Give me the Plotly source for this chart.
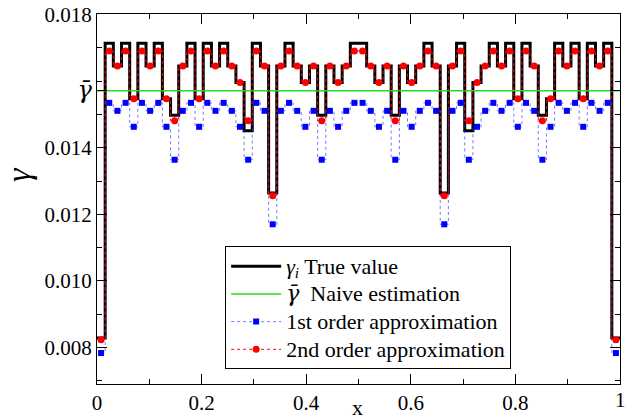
import numpy as np
import plotly.graph_objects as go

# 64 cells on [0, 1]
n_cells = 64
x_edges = np.linspace(0, 1, n_cells + 1)
x_centers = (x_edges[:-1] + x_edges[1:]) / 2

true_vals = [
    0.00828, 0.01714, 0.01646, 0.01714, 0.01547, 0.01714, 0.01646, 0.01714,
    0.01547, 0.01498, 0.01646, 0.01714, 0.01547, 0.01714, 0.01646, 0.01714,
    0.01646, 0.01596, 0.01451, 0.01714, 0.01646, 0.01264, 0.01646, 0.01714,
    0.01646, 0.01596, 0.01646, 0.01498, 0.01646, 0.01596, 0.01646, 0.01714,
    0.01714, 0.01646, 0.01596, 0.01646, 0.01498, 0.01646, 0.01596, 0.01646,
    0.01714, 0.01646, 0.01264, 0.01646, 0.01714, 0.01451, 0.01596, 0.01646,
    0.01714, 0.01646, 0.01714, 0.01547, 0.01714, 0.01646, 0.01498, 0.01547,
    0.01714, 0.01646, 0.01714, 0.01547, 0.01714, 0.01646, 0.01714, 0.00828]

second_order = [
    0.00823, 0.01691, 0.01646, 0.01691, 0.01547, 0.01691, 0.01646, 0.01691,
    0.01547, 0.01481, 0.01646, 0.01691, 0.01547, 0.01691, 0.01646, 0.01691,
    0.01646, 0.01596, 0.01481, 0.01691, 0.01646, 0.01256, 0.01646, 0.01691,
    0.01646, 0.01596, 0.01646, 0.01481, 0.01646, 0.01596, 0.01646, 0.01691,
    0.01691, 0.01646, 0.01596, 0.01646, 0.01481, 0.01646, 0.01596, 0.01646,
    0.01691, 0.01646, 0.01256, 0.01646, 0.01691, 0.01481, 0.01596, 0.01646,
    0.01691, 0.01646, 0.01691, 0.01547, 0.01691, 0.01646, 0.01481, 0.01547,
    0.01691, 0.01646, 0.01691, 0.01547, 0.01691, 0.01646, 0.01691, 0.00823]

first_order = [
    0.00783, 0.01535, 0.01511, 0.01535, 0.01463, 0.01535, 0.01511, 0.01535,
    0.01463, 0.01364, 0.01511, 0.01535, 0.01463, 0.01535, 0.01511, 0.01535,
    0.01511, 0.01463, 0.01364, 0.01535, 0.01511, 0.01170, 0.01511, 0.01535,
    0.01511, 0.01463, 0.01511, 0.01364, 0.01511, 0.01463, 0.01511, 0.01535,
    0.01535, 0.01511, 0.01463, 0.01511, 0.01364, 0.01511, 0.01463, 0.01511,
    0.01535, 0.01511, 0.01170, 0.01511, 0.01535, 0.01364, 0.01463, 0.01511,
    0.01535, 0.01511, 0.01535, 0.01463, 0.01535, 0.01511, 0.01364, 0.01463,
    0.01535, 0.01511, 0.01535, 0.01463, 0.01535, 0.01511, 0.01535, 0.00783]

gamma_bar = 0.01571

GBAR = '<span style="font-family:DejaVu Serif"><i>γ̄</i></span>'


def big(s):
    return '<span style="font-size:22px">' + s + '</span>'


y_major_vals = [0.008, 0.010, 0.012, 0.014, gamma_bar, 0.018]
y_major_text = ["0.008", "0.010", "0.012", "0.014",
                '<span style="font-family:DejaVu Serif;font-size:24px"><i>γ̄</i></span>',
                "0.018"]
y_minor_vals = [0.007, 0.009, 0.011, 0.013, 0.015, 0.016, 0.017]
x_major_vals = [0, 0.2, 0.4, 0.6, 0.8, 1.0]
x_major_text = ["0", "0.2", "0.4", "0.6", "0.8", ""]
x_last_label = "1"
x_minor_vals = [0.1, 0.3, 0.5, 0.7, 0.9]

FONT = "Liberation Serif, Times New Roman, serif"

fig = go.Figure()

fig.add_trace(go.Scatter(
    x=x_edges, y=true_vals + [true_vals[-1]],
    mode="lines", line=dict(color="black", width=3, shape="hv"),
    name=big("<i>γ<sub>i</sub></i> True value")))

fig.add_trace(go.Scatter(
    x=[0, 1], y=[gamma_bar, gamma_bar],
    mode="lines", line=dict(color="#22dd22", width=1.5),
    name=big(GBAR + "  Naive estimation")))

fig.add_trace(go.Scatter(
    x=x_centers, y=first_order,
    mode="lines+markers",
    line=dict(color="rgba(60,60,255,0.7)", width=1, dash="dot", shape="hvh"),
    marker=dict(symbol="square", size=6, color="blue"),
    name=big("1st order approximation")))

fig.add_trace(go.Scatter(
    x=x_centers, y=second_order,
    mode="lines+markers",
    line=dict(color="red", width=1, dash="dot", shape="hvh"),
    marker=dict(symbol="circle", size=7, color="red"),
    name=big("2nd order approximation")))

fig.update_layout(
    width=625, height=420,
    margin=dict(l=97, r=5, t=14, b=36),
    paper_bgcolor="white", plot_bgcolor="white",
    font=dict(family=FONT, color="black", size=21),
    showlegend=True,
    legend=dict(
        x=0.245, y=0.372, xanchor="left", yanchor="top",
        bgcolor="white", bordercolor="black", borderwidth=1,
        font=dict(family=FONT, size=19, color="black"),
        itemwidth=50, tracegroupgap=0),
    annotations=[
        dict(text="<i>γ</i>", xref="paper", yref="paper",
             x=-0.149, y=0.565, xanchor="center", yanchor="middle",
             textangle=-90, showarrow=False,
             font=dict(family=FONT, size=34, color="black")),
        dict(text="x", xref="paper", yref="paper",
             x=0.499, y=-0.064, xanchor="center", yanchor="middle",
             showarrow=False,
             font=dict(family=FONT, size=22, color="black")),
        dict(text=x_last_label, xref="x", yref="paper",
             x=1, y=0, xanchor="center", yanchor="top", yshift=-2,
             showarrow=False,
             font=dict(family=FONT, size=21, color="black")),
    ],
)

fig.update_xaxes(
    range=[0, 1], showgrid=False, zeroline=False,
    showline=True, linecolor="black", linewidth=1, mirror="ticks",
    tickmode="array", tickvals=x_major_vals, ticktext=x_major_text,
    ticks="inside", ticklen=10, tickcolor="black", tickwidth=1,
    tickfont=dict(family=FONT, size=21), ticklabeloverflow="allow",
    minor=dict(tickmode="array", tickvals=x_minor_vals, ticks="inside",
               ticklen=5, tickcolor="black", tickwidth=1, showgrid=False),
    automargin=False)

fig.update_yaxes(
    range=[0.0069, 0.01802], showgrid=False, zeroline=False,
    showline=True, linecolor="black", linewidth=1, mirror="ticks",
    tickmode="array", tickvals=y_major_vals, ticktext=y_major_text,
    ticks="inside", ticklen=10, tickcolor="black", tickwidth=1,
    tickfont=dict(family=FONT, size=21), ticklabeloverflow="allow",
    minor=dict(tickmode="array", tickvals=y_minor_vals, ticks="inside",
               ticklen=5, tickcolor="black", tickwidth=1, showgrid=False),
    automargin=False)

fig.write_html("out.html")
